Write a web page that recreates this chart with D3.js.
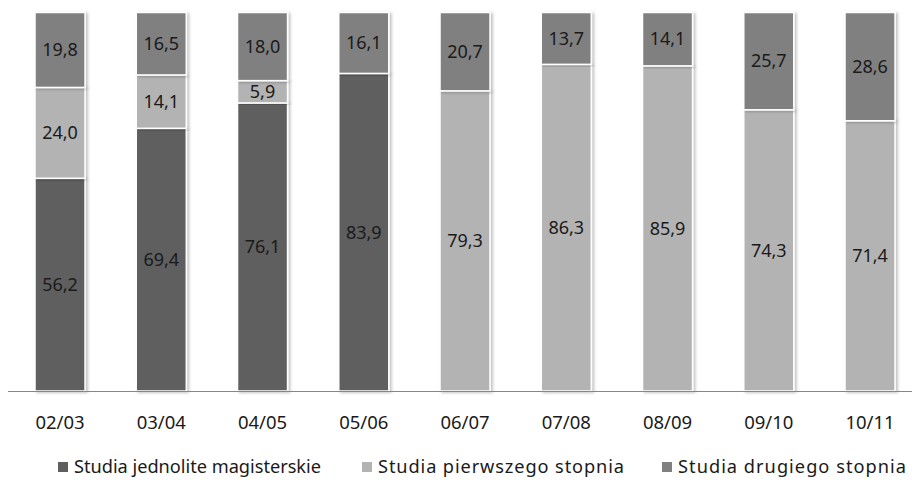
<!DOCTYPE html>
<html>
<head>
<meta charset="utf-8">
<script src="https://cdn.jsdelivr.net/npm/d3@7"></script>
<style>
body { margin: 0; background: #fff; }
svg text { font-family: "Noto Sans", "Open Sans", sans-serif; fill: #1a1a1a; }
</style>
</head>
<body>
<div id="chart"></div>
<script>
var years = ["02/03", "03/04", "04/05", "05/06", "06/07", "07/08", "08/09", "09/10", "10/11"];
var seriesNames = ["Studia jednolite magisterskie", "Studia pierwszego stopnia", "Studia drugiego stopnia"];
var jednolite = [56.2, 69.4, 76.1, 83.9, 0, 0, 0, 0, 0];
var pierwszy = [24.0, 14.1, 5.9, 0, 79.3, 86.3, 85.9, 74.3, 71.4];
var drugi = [19.8, 16.5, 18.0, 16.1, 20.7, 13.7, 14.1, 25.7, 28.6];
var colors = ["#5f5f5f", "#b3b3b3", "#808080"];

var svgWidth = 912, svgHeight = 486;
var margin = { top: 12.5, bottom: 95 };
var chartHeight = svgHeight - margin.top - margin.bottom;

var svg = d3.select("#chart").append("svg")
  .attr("width", svgWidth)
  .attr("height", svgHeight);

var defs = svg.append("defs");
var f = defs.append("filter").attr("id", "shadow").attr("x", "-20%").attr("y", "-5%").attr("width", "150%").attr("height", "110%");
f.append("feDropShadow").attr("dx", 2).attr("dy", 1).attr("stdDeviation", 1.5)
  .attr("flood-color", "#000").attr("flood-opacity", 0.25);

// build table for stack
var table = years.map(function(y, i) {
  return { year: y, s0: jednolite[i], s1: pierwszy[i], s2: drugi[i] };
});

var stack = d3.stack().keys(["s0", "s1", "s2"]);
var layers = stack(table);

var x = d3.scaleBand()
  .domain(years)
  .range([9.4, 9.4 + 9 * 101.25])
  .paddingInner(0.506)
  .paddingOuter(0.253);

var y = d3.scaleLinear()
  .domain([0, 100])
  .range([margin.top + chartHeight, margin.top]);

var fmt = function(v) { return d3.format(".1f")(v).replace(".", ","); };

var chartGroup = svg.append("g");

var layerG = chartGroup.selectAll("g.layer")
  .data(layers)
  .enter().append("g")
  .attr("class", "layer")
  .attr("fill", function(d, i) { return colors[i]; });

layerG.selectAll("rect")
  .data(function(d) { return d.filter(function(p) { return p[1] - p[0] > 0; }); })
  .enter().append("rect")
  .attr("x", function(d) { return x(d.data.year); })
  .attr("y", function(d) { return y(d[1]); })
  .attr("width", x.bandwidth())
  .attr("height", function(d) { return y(d[0]) - y(d[1]); })
  .attr("stroke", "#fff")
  .attr("stroke-width", 1.5)
  .attr("filter", "url(#shadow)");

layerG.selectAll("text")
  .data(function(d) { return d.filter(function(p) { return p[1] - p[0] > 0; }); })
  .enter().append("text")
  .attr("x", function(d) { return x(d.data.year) + x.bandwidth() / 2; })
  .attr("y", function(d) { return (y(d[0]) + y(d[1])) / 2; })
  .attr("dy", "0.35em")
  .attr("text-anchor", "middle")
  .style("font-size", "18px")
  .text(function(d) { return fmt(d[1] - d[0]); });

// x axis
var bottomAxis = d3.axisBottom(x).tickSize(0).tickPadding(25);
var axisG = chartGroup.append("g")
  .attr("transform", "translate(0," + y(0) + ")")
  .call(bottomAxis);
axisG.select(".domain").attr("stroke", "#868686").attr("stroke-width", 1)
  .attr("d", "M8,0.5H912");
axisG.selectAll("text").style("font-size", "18.5px").attr("fill", "#1a1a1a");

// legend
var legendX = [58, 362, 662];
var legendLen = [247, 246, 228];
var legend = svg.append("g").attr("transform", "translate(0,467)");
var item = legend.selectAll("g")
  .data(seriesNames)
  .enter().append("g")
  .attr("transform", function(d, i) { return "translate(" + legendX[i] + ",0)"; });
item.append("rect")
  .attr("x", 0).attr("y", -5).attr("width", 10).attr("height", 10)
  .attr("fill", function(d, i) { return colors[i]; });
item.append("text")
  .attr("x", 16).attr("dy", "0.35em")
  .attr("textLength", function(d, i) { return legendLen[i]; })
  .attr("lengthAdjust", "spacing")
  .style("font-size", "18.2px")
  .text(function(d) { return d; });
</script>
</body>
</html>
